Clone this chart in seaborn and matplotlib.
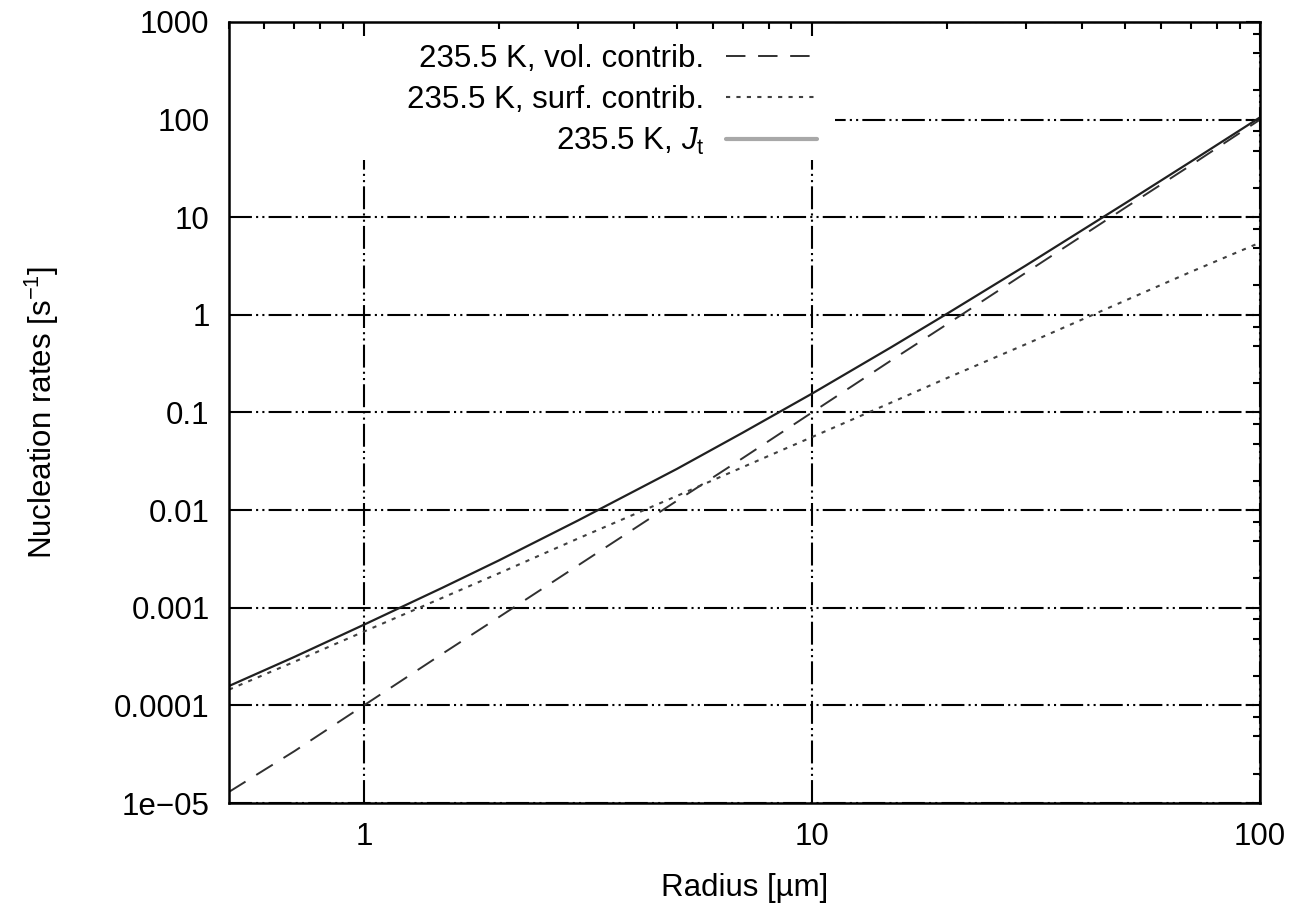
import matplotlib
matplotlib.use("Agg")
import matplotlib.pyplot as plt
from matplotlib.ticker import LogLocator, FixedLocator, FixedFormatter, NullFormatter
from matplotlib.patches import Rectangle
import numpy as np
import seaborn as sns

# Nucleation rates versus droplet radius at 235.5 K
radius_um = [0.5, 0.7, 1, 1.5, 2, 3, 5, 7, 10, 15, 20, 30, 50, 70, 100]
vol_contrib = [1.3e-5, 3.4e-5, 1.0e-4, 3.4e-4, 8.0e-4, 2.7e-3, 1.25e-2, 3.4e-2,
               0.10, 0.34, 0.80, 2.7, 12.5, 34.0, 100.0]
surf_contrib = [1.45e-4, 2.8e-4, 5.7e-4, 1.27e-3, 2.25e-3, 5.1e-3, 1.4e-2, 2.75e-2,
                5.6e-2, 0.126, 0.225, 0.5, 1.4, 2.75, 5.5]
j_total = [1.58e-4, 3.14e-4, 6.7e-4, 1.61e-3, 3.05e-3, 7.8e-3, 2.65e-2, 6.2e-2,
           0.156, 0.464, 1.025, 3.2, 13.9, 37.0, 105.5]

series_labels = ["235.5 K, vol. contrib.", "235.5 K, surf. contrib.",
                 r"235.5 K, $\mathit{J}_\mathrm{t}$"]

x_ticks = [1, 10, 100]
x_tick_labels = ["1", "10", "100"]
y_ticks = [1e-5, 1e-4, 1e-3, 1e-2, 1e-1, 1, 10, 100, 1000]
y_tick_labels = ["1e\u221205", "0.0001", "0.001", "0.01", "0.1", "1", "10", "100", "1000"]

sns.set_theme(style="white")
plt.rcParams["font.family"] = ["Liberation Sans", "DejaVu Sans"]
plt.rcParams["mathtext.fontset"] = "custom"
plt.rcParams["mathtext.rm"] = "Liberation Sans"
plt.rcParams["mathtext.it"] = "Liberation Sans:italic"
plt.rcParams["mathtext.default"] = "regular"

FS = 22.5

fig = plt.figure(figsize=(12.99, 9.05), dpi=100)
rect = [0.1763, 0.1127, 0.7937, 0.8630]

# background axes: gnuplot-style dash-dot-dot grid, partly hidden behind the key
ax_bg = fig.add_axes(rect)
ax = fig.add_axes(rect, sharex=ax_bg, sharey=ax_bg)
ax.patch.set_visible(False)

ax.set_xscale("log")
ax.set_yscale("log")
ax.set_xlim(0.5, 100)
ax.set_ylim(1e-5, 1000)

grid_style = dict(color="black", linewidth=1.5, linestyle=(0, (11, 2, 1, 2, 1, 2)))
ax_bg.grid(True, which="major", **grid_style)
ax_bg.tick_params(which="both", length=0, labelbottom=False, labelleft=False)
for s in ax_bg.spines.values():
    s.set_visible(False)
ax_bg.add_patch(Rectangle((0.0, 0.823), 0.588, 0.2, transform=ax_bg.transAxes,
                          facecolor="white", edgecolor="none", zorder=3))

sns.lineplot(x=radius_um, y=vol_contrib, ax=ax, color="#303030", linewidth=1.4,
             linestyle=(0, (10, 6.5)), estimator=None, sort=False, label=series_labels[0])
sns.lineplot(x=radius_um, y=surf_contrib, ax=ax, color="#404040", linewidth=1.5,
             linestyle=(0, (2.0, 3.0)), estimator=None, sort=False, label=series_labels[1])
sns.lineplot(x=radius_um, y=j_total, ax=ax, color="#202020", linewidth=1.6,
             linestyle="-", estimator=None, sort=False, label=series_labels[2])

ax.xaxis.set_major_locator(FixedLocator(x_ticks))
ax.xaxis.set_major_formatter(FixedFormatter(x_tick_labels))
ax.xaxis.set_minor_locator(LogLocator(base=10, subs=np.arange(2, 10), numticks=20))
ax.xaxis.set_minor_formatter(NullFormatter())
ax.yaxis.set_major_locator(FixedLocator(y_ticks))
ax.yaxis.set_major_formatter(FixedFormatter(y_tick_labels))
ax.yaxis.set_minor_locator(LogLocator(base=10, subs=(2.0, 4.8, 7.6), numticks=20))
ax.yaxis.set_minor_formatter(NullFormatter())

ax.tick_params(which="both", direction="in", top=True, right=True,
               color="black", width=1.5, labelsize=FS, labelcolor="black")
ax.tick_params(which="major", length=10)
ax.tick_params(which="minor", length=5)
ax.tick_params(axis="x", which="major", pad=14)
ax.tick_params(axis="y", which="major", pad=14)
for s in ax.spines.values():
    s.set_visible(True)
    s.set_color("black")
    s.set_linewidth(1.8)

ax.set_xlabel("Radius [\u00b5m]", fontsize=FS, color="black", labelpad=15)
ax.set_ylabel(r"Nucleation rates [s$^{-1}$]", fontsize=FS, color="black", labelpad=38)

leg = ax.legend(loc="upper right", bbox_to_anchor=(0.570, 0.972), frameon=False,
                markerfirst=False, fontsize=FS, handlelength=2.9, handletextpad=0.7,
                labelspacing=0.36, borderpad=0, borderaxespad=0)
for t in leg.get_texts():
    t.set_color("black")
jt_handle = leg.get_lines()[2]
jt_handle.set_color("#a8a8a8")
jt_handle.set_linewidth(3.0)

fig.savefig("out.png", dpi=100)
